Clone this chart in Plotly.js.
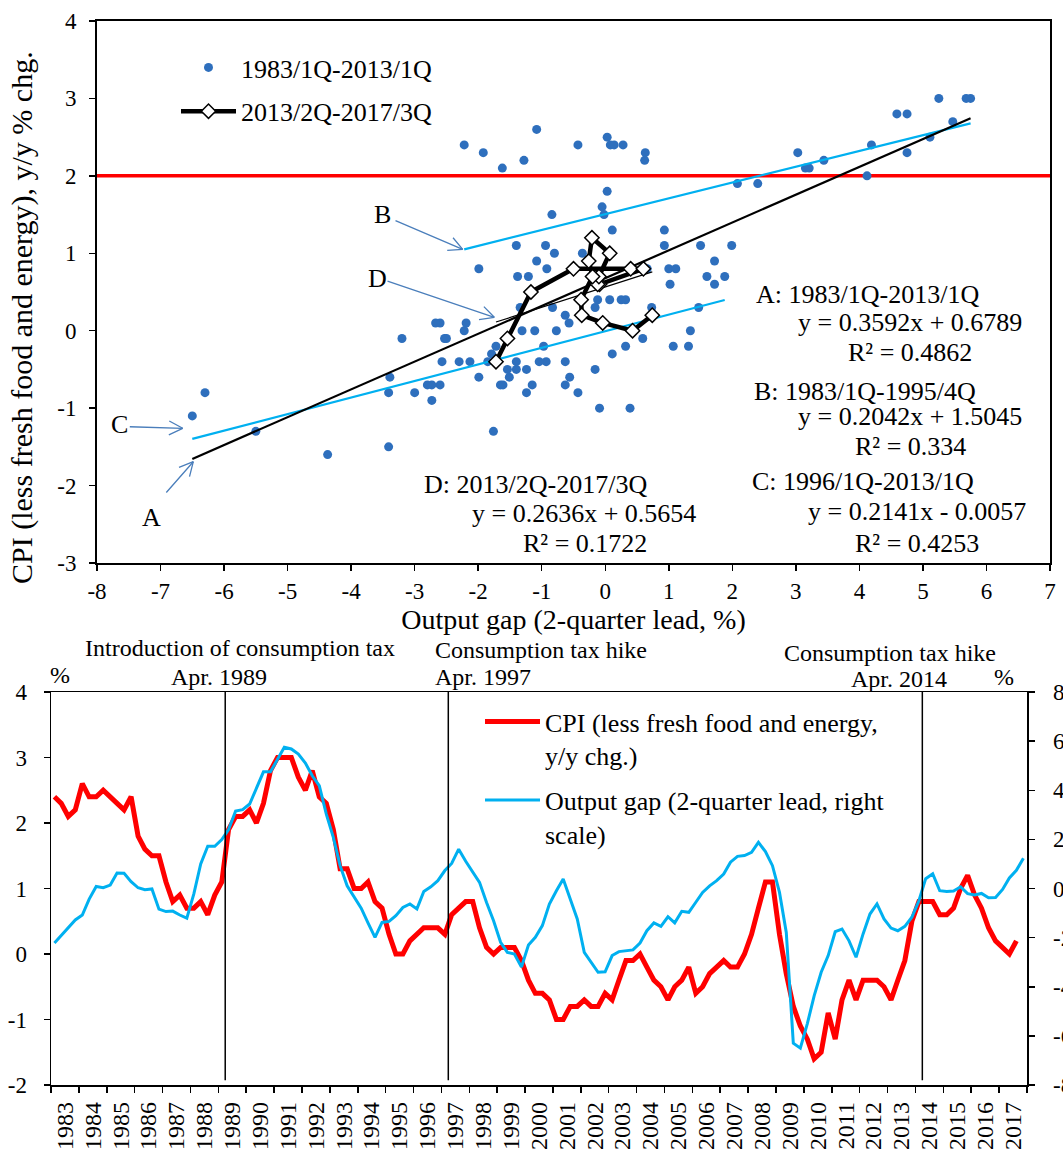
<!DOCTYPE html>
<html><head><meta charset="utf-8">
<script src="https://cdn.plot.ly/plotly-3.0.1.min.js"></script>
<style>html,body{margin:0;padding:0;background:#fff;}#chart{width:1063px;height:1153px;}</style>
</head><body><div id="chart"></div>
<script>
// ---------------- data (quarterly, starting 1983Q1) ----------------
const startYear = 1983;
// CPI less fresh food and energy, y/y % chg. (1983Q1 - 2017Q3)
const cpi = [
 2.4, 2.3, 2.1, 2.2, 2.6, 2.4, 2.4, 2.5, 2.4, 2.3, 2.2, 2.4,
 1.8, 1.6, 1.5, 1.5, 1.1, 0.8, 0.9, 0.7, 0.7, 0.8, 0.6, 0.9,
 1.1, 1.9, 2.1, 2.1, 2.2, 2.0, 2.3, 2.8, 3.0, 3.0, 3.0, 2.7,
 2.5, 2.8, 2.4, 2.3, 1.9, 1.3, 1.3, 1.0, 1.0, 1.1, 0.8, 0.7,
 0.3, 0.0, 0.0, 0.2, 0.3, 0.4, 0.4, 0.4, 0.3, 0.6, 0.7, 0.8,
 0.8, 0.4, 0.1, 0.0, 0.1, 0.1, 0.1, -0.1, -0.4, -0.6, -0.6, -0.7,
 -1.0, -1.0, -0.8, -0.8, -0.7, -0.8, -0.8, -0.6, -0.7, -0.4, -0.1, -0.1,
 0.0, -0.2, -0.4, -0.5, -0.7, -0.5, -0.4, -0.2, -0.6, -0.5, -0.3, -0.2,
 -0.1, -0.2, -0.2, 0.0, 0.3, 0.7, 1.1, 1.1, 0.3, -0.3, -0.8, -1.1,
 -1.3, -1.6, -1.5, -0.9, -1.3, -0.7, -0.4, -0.7, -0.4, -0.4, -0.4, -0.5,
 -0.7, -0.4, -0.1, 0.5, 0.8, 0.8, 0.8, 0.6, 0.6, 0.7, 1.0, 1.2,
 0.9, 0.7, 0.4, 0.2, 0.1, 0.0, 0.2
];
// Output gap, 2-quarter lead, % (1983Q1 - 2017Q4)
const gap = [
 -2.22, -1.92, -1.62, -1.28, -1.08, -0.43, 0.08, 0.03, 0.14, 0.63, 0.62, 0.28,
 0.03, -0.05, -0.02, -0.84, -0.94, -0.92, -1.08, -1.21, -0.22, 1.00, 1.72, 1.72,
 1.99, 2.40, 3.15, 3.21, 3.44, 4.12, 4.75, 4.75, 5.25, 5.75, 5.68, 5.47,
 5.11, 4.59, 4.19, 3.03, 2.08, 0.93, 0.11, -0.36, -0.80, -1.40, -1.99, -1.38,
 -1.34, -1.11, -0.77, -0.63, -0.83, -0.12, 0.07, 0.32, 0.73, 1.02, 1.60, 1.11,
 0.66, 0.25, -0.57, -1.31, -2.19, -2.60, -2.67, -3.20, -2.30, -1.99, -1.51, -0.63,
 -0.09, 0.39, -0.43, -1.24, -2.60, -3.00, -3.41, -3.39, -2.73, -2.57, -2.53, -2.50,
 -2.22, -1.72, -1.40, -1.54, -1.15, -1.40, -0.93, -0.97, -0.56, -0.16, 0.11, 0.32,
 0.59, 1.07, 1.31, 1.34, 1.47, 1.88, 1.50, 0.93, -0.16, -1.79, -6.30, -6.50,
 -5.50, -4.37, -3.41, -2.73, -1.76, -1.65, -2.13, -2.80, -1.85, -1.04, -0.63, -1.24,
 -1.61, -1.72, -1.54, -1.17, -0.50, 0.40, 0.60, -0.09, -0.12, -0.10, 0.07, -0.21,
 -0.26, -0.20, -0.38, -0.37, -0.04, 0.43, 0.74, 1.23
];
const cpiName = 'CPI (less fresh food and energy,<br>y/y chg.)';
const gapName = 'Output gap (2-quarter lead, right<br>scale)';
const scatterPeriod = ['1983Q1', '2013Q1'];
const recentPeriod = ['2013Q2', '2017Q3'];
const target = 2;
// tick values
const topXTicks = [-8, -7, -6, -5, -4, -3, -2, -1, 0, 1, 2, 3, 4, 5, 6, 7];
const topYTicks = [-3, -2, -1, 0, 1, 2, 3, 4];
const leftTicks = [-2, -1, 0, 1, 2, 3, 4];
const rightTicks = [-8, -6, -4, -2, 0, 2, 4, 6, 8];
// regression lines as printed on the chart
const fitIds = ['A', 'B', 'C', 'D'];
const fitFrom = ['1983Q1', '1983Q1', '1996Q1', '2013Q2'];
const fitTo = ['2013Q1', '1995Q4', '2013Q1', '2017Q3'];
const fitSlope = [0.3592, 0.2042, 0.2141, 0.2636];
const fitIntercept = [0.6789, 1.5045, -0.0057, 0.5654];
const fitR2 = ['0.4862', '0.334', '0.4253', '0.1722'];
// consumption tax events
const eventDates = ['1989-04-01', '1997-04-01', '2014-04-01'];
const eventLine1 = ['Introduction of consumption tax', 'Consumption tax hike', 'Consumption tax hike'];
const eventLine2 = ['Apr. 1989', 'Apr. 1997', 'Apr. 2014'];

// ---------------- helpers ----------------
const W = 1063, H = 1153;
const FONT = 'Liberation Serif, Times New Roman, serif';
const qIndex = s => (parseInt(s.slice(0, 4)) - startYear) * 4 + parseInt(s.slice(5)) - 1;
const qLabel = s => s.slice(0, 4) + '/' + s.slice(5) + 'Q';
const qDate = i => {
  const y = startYear + Math.floor(i / 4), m = (i % 4) * 3 + 2;
  return y + '-' + String(m).padStart(2, '0') + '-15';
};
const cpiDates = cpi.map((_, i) => qDate(i));
const gapDates = gap.map((_, i) => qDate(i));
const sub = (arr, a, b) => arr.slice(qIndex(a), qIndex(b) + 1);

// pixel geometry of the two panels
const T = {l: 97, r: 1050, t: 21, b: 563};
const B = {l: 51, r: 1027, t: 692, b: 1085};
const xr = [-8, 7], yr = [-3, 4];
const pxX = (T.r - T.l) / (xr[1] - xr[0]), pxY = (T.b - T.t) / (yr[1] - yr[0]);
const toX = px => xr[0] + (px - T.l) / pxX;
const toY = py => yr[1] - (py - T.t) / pxY;
const paper = (x, y) => ({x: x / W, y: 1 - y / H});

// ---------------- traces ----------------
const traces = [];
traces.push({
  type: 'scatter', mode: 'markers', name: qLabel(scatterPeriod[0]) + '-' + qLabel(scatterPeriod[1]),
  x: sub(gap, scatterPeriod[0], scatterPeriod[1]), y: sub(cpi, scatterPeriod[0], scatterPeriod[1]),
  marker: {size: 9, color: '#2e6fbd'}, xaxis: 'x', yaxis: 'y', legend: 'legend', legendgroup: 'g1', hoverinfo: 'skip'
});
const fitColor = ['#000000', '#00b0f0', '#00b0f0', '#000000'];
const fitWidth = [2.2, 2.2, 2.2, 1.2];
const drawOrder = [1, 2, 0, 3];
drawOrder.forEach(k => {
  const xs = sub(gap, fitFrom[k], fitTo[k]);
  const x0 = Math.min(...xs), x1 = Math.max(...xs);
  traces.push({
    type: 'scatter', mode: 'lines', showlegend: false, hoverinfo: 'skip',
    x: [x0, x1], y: [fitSlope[k] * x0 + fitIntercept[k], fitSlope[k] * x1 + fitIntercept[k]],
    line: {color: fitColor[k], width: fitWidth[k]}, xaxis: 'x', yaxis: 'y'
  });
});
traces.push({
  type: 'scatter', mode: 'lines+markers', name: qLabel(recentPeriod[0]) + '-' + qLabel(recentPeriod[1]),
  x: sub(gap, recentPeriod[0], recentPeriod[1]), y: sub(cpi, recentPeriod[0], recentPeriod[1]),
  line: {color: '#000', width: 4.5},
  marker: {symbol: 'diamond', size: 11, color: '#fff', line: {color: '#000', width: 1.5}},
  xaxis: 'x', yaxis: 'y', legend: 'legend', legendgroup: 'g2', hoverinfo: 'skip'
});
traces.push({
  type: 'scatter', mode: 'lines', name: cpiName, x: cpiDates, y: cpi,
  line: {color: '#ff0000', width: 5}, xaxis: 'x2', yaxis: 'y2', legend: 'legend2', legendgroup: 'h1', hoverinfo: 'skip'
});
traces.push({
  type: 'scatter', mode: 'lines', name: gapName, x: gapDates, y: gap,
  line: {color: '#00b0f0', width: 3}, xaxis: 'x2', yaxis: 'y3', legend: 'legend2', legendgroup: 'h2', hoverinfo: 'skip'
});

// ---------------- annotations ----------------
const ann = [];
const ARROW = '#4a7ebb';
function addArrow(letter, tailPx, headPx, textPx) {
  const head = [toX(headPx[0]), toY(headPx[1])], tail = [toX(tailPx[0]), toY(tailPx[1])];
  ann.push({xref: 'x', yref: 'y', axref: 'x', ayref: 'y', x: head[0], y: head[1], ax: tail[0], ay: tail[1],
    text: '', showarrow: true, arrowhead: 0, arrowwidth: 1.3, arrowcolor: ARROW, standoff: 0, startstandoff: 0});
  const dx = headPx[0] - tailPx[0], dy = headPx[1] - tailPx[1], L = Math.hypot(dx, dy);
  const vx = -dx / L, vy = -dy / L;
  [1, -1].forEach(s => {
    const th = s * 27 * Math.PI / 180, len = 17;
    ann.push({xref: 'x', yref: 'y', x: head[0], y: head[1],
      ax: len * (vx * Math.cos(th) - vy * Math.sin(th)), ay: len * (vx * Math.sin(th) + vy * Math.cos(th)),
      text: '', showarrow: true, arrowhead: 0, arrowwidth: 1.3, arrowcolor: ARROW, standoff: 0, startstandoff: 0});
  });
  ann.push({xref: 'x', yref: 'y', x: toX(textPx[0]), y: toY(textPx[1]), text: letter, showarrow: false,
    font: {size: 26}, xanchor: 'center', yanchor: 'middle'});
}
addArrow('B', [394, 220], [462.7, 249.3], [382, 215]);
addArrow('D', [386, 280.7], [494.3, 317.3], [377.3, 278.3]);
addArrow('C', [128.3, 426.7], [182.7, 428.3], [119.3, 425]);
addArrow('A', [165, 494], [193.3, 461.7], [151.7, 517.3]);

// regression labels
const eqPos = {
  A: [[867, 295], [910, 323], [910, 353]],
  B: [[865, 391.7], [910, 416.7], [910, 446.7]],
  C: [[863, 481.7], [917, 511.7], [917, 543.3]],
  D: [[535, 485], [584, 513], [585, 543]]
};
fitIds.forEach((id, k) => {
  const b = fitIntercept[k];
  const lines = [
    id + ': ' + qLabel(fitFrom[k]) + '-' + qLabel(fitTo[k]),
    'y = ' + fitSlope[k].toFixed(4) + 'x ' + (b < 0 ? '- ' : '+ ') + Math.abs(b).toFixed(4),
    'R\u00b2 = ' + fitR2[k]
  ];
  lines.forEach((t, j) => {
    const p = eqPos[id][j];
    ann.push({xref: 'x', yref: 'y', x: toX(p[0]), y: toY(p[1]), text: t, showarrow: false,
      font: {size: 26}, xanchor: 'center', yanchor: 'middle'});
  });
});

// y-axis title of the upper panel (placed as in the original, off-centre)
(() => {
  const q = paper(22, 318);
  ann.push({xref: 'paper', yref: 'paper', x: q.x, y: q.y, text: 'CPI (less fresh food and energy), y/y % chg.',
    textangle: -90, showarrow: false, font: {size: 30}, xanchor: 'center', yanchor: 'middle'});
})();

// event labels above lower panel
const evPos = [
  [[240, 648.3, 'center'], [219, 676.7, 'center']],
  [[433, 650, 'left'], [433, 676.7, 'left']],
  [[890.5, 653.3, 'center'], [899, 679.3, 'center']]
];
eventDates.forEach((d, k) => {
  [eventLine1[k], eventLine2[k]].forEach((t, j) => {
    const p = evPos[k][j], q = paper(p[0], p[1]);
    ann.push({xref: 'paper', yref: 'paper', x: q.x, y: q.y, text: t, showarrow: false,
      font: {size: 24}, xanchor: p[2], yanchor: 'middle'});
  });
});
[[60, 675], [1004, 677]].forEach(p => {
  const q = paper(p[0], p[1]);
  ann.push({xref: 'paper', yref: 'paper', x: q.x, y: q.y, text: '%', showarrow: false,
    font: {size: 24}, xanchor: 'center', yanchor: 'middle'});
});

// ---------------- shapes ----------------
const shapes = [{type: 'line', xref: 'x domain', yref: 'y', x0: 0, x1: 1, y0: target, y1: target,
  line: {color: '#ff0000', width: 3.5}, layer: 'below'}];
eventDates.forEach(d => shapes.push({type: 'line', xref: 'x2', yref: 'y2 domain', x0: d, x1: d, y0: 0.012, y1: 1,
  line: {color: '#000', width: 1.5}}));

// ---------------- layout ----------------
const tickSet = vals => ({tickmode: 'array', tickvals: vals, ticktext: vals.map(v => String(v))});
const axCommon = {showline: true, linecolor: '#000', ticks: 'outside', tickcolor: '#000', ticklen: 6,
  showgrid: false, zeroline: false, tickfont: {family: FONT, size: 23, color: '#000'}};
const layout = {
  width: W, height: H, margin: {l: 0, r: 0, t: 0, b: 0},
  paper_bgcolor: '#fff', plot_bgcolor: 'rgba(0,0,0,0)',
  font: {family: FONT, size: 23, color: '#000'},
  xaxis: Object.assign({}, axCommon, tickSet(topXTicks), {domain: [T.l / W, T.r / W], anchor: 'y', range: xr,
    linewidth: 2, tickwidth: 1.5, mirror: true, ticklabelstandoff: 0,
    title: {text: 'Output gap (2-quarter lead, %)', font: {family: FONT, size: 28}, standoff: 0}}),
  yaxis: Object.assign({}, axCommon, tickSet(topYTicks), {domain: [1 - T.b / H, 1 - T.t / H], anchor: 'x', range: yr,
    linewidth: 2, tickwidth: 1.5, mirror: true, ticklabelstandoff: 8}),
  xaxis2: Object.assign({}, axCommon, {domain: [B.l / W, B.r / W], anchor: 'y2', type: 'date',
    range: ['1983-01-01', '2018-01-01'], dtick: 'M12', tick0: '1983-01-01', ticklabelmode: 'period',
    tickformat: '%Y', tickangle: -90, linewidth: 1.5, tickwidth: 1.5, mirror: true,
    tickfont: {family: FONT, size: 24, color: '#000'}, ticklabelstandoff: 0}),
  yaxis2: Object.assign({}, axCommon, tickSet(leftTicks), {domain: [1 - B.b / H, 1 - B.t / H], anchor: 'x2', range: [-2, 4],
    linewidth: 1.5, tickwidth: 1.5, ticklabelstandoff: 12}),
  yaxis3: Object.assign({}, axCommon, tickSet(rightTicks), {overlaying: 'y2', side: 'right', anchor: 'x2', range: [-8, 8],
    linewidth: 1.5, tickwidth: 1.5, ticklabelstandoff: 14}),
  legend: {x: 176 / W, y: 1 - 44 / H, xanchor: 'left', yanchor: 'top', bgcolor: 'rgba(0,0,0,0)',
    font: {family: FONT, size: 26}, itemwidth: 55, tracegroupgap: 7, borderwidth: 0},
  legend2: {x: 480 / W, y: 1 - 698 / H, xanchor: 'left', yanchor: 'top', bgcolor: 'rgba(0,0,0,0)',
    font: {family: FONT, size: 26}, itemwidth: 55, tracegroupgap: 8, borderwidth: 0, valign: 'top'},
  annotations: ann, shapes: shapes, showlegend: true
};
Plotly.newPlot('chart', traces, layout, {displayModeBar: false, staticPlot: true});
</script></body></html>
